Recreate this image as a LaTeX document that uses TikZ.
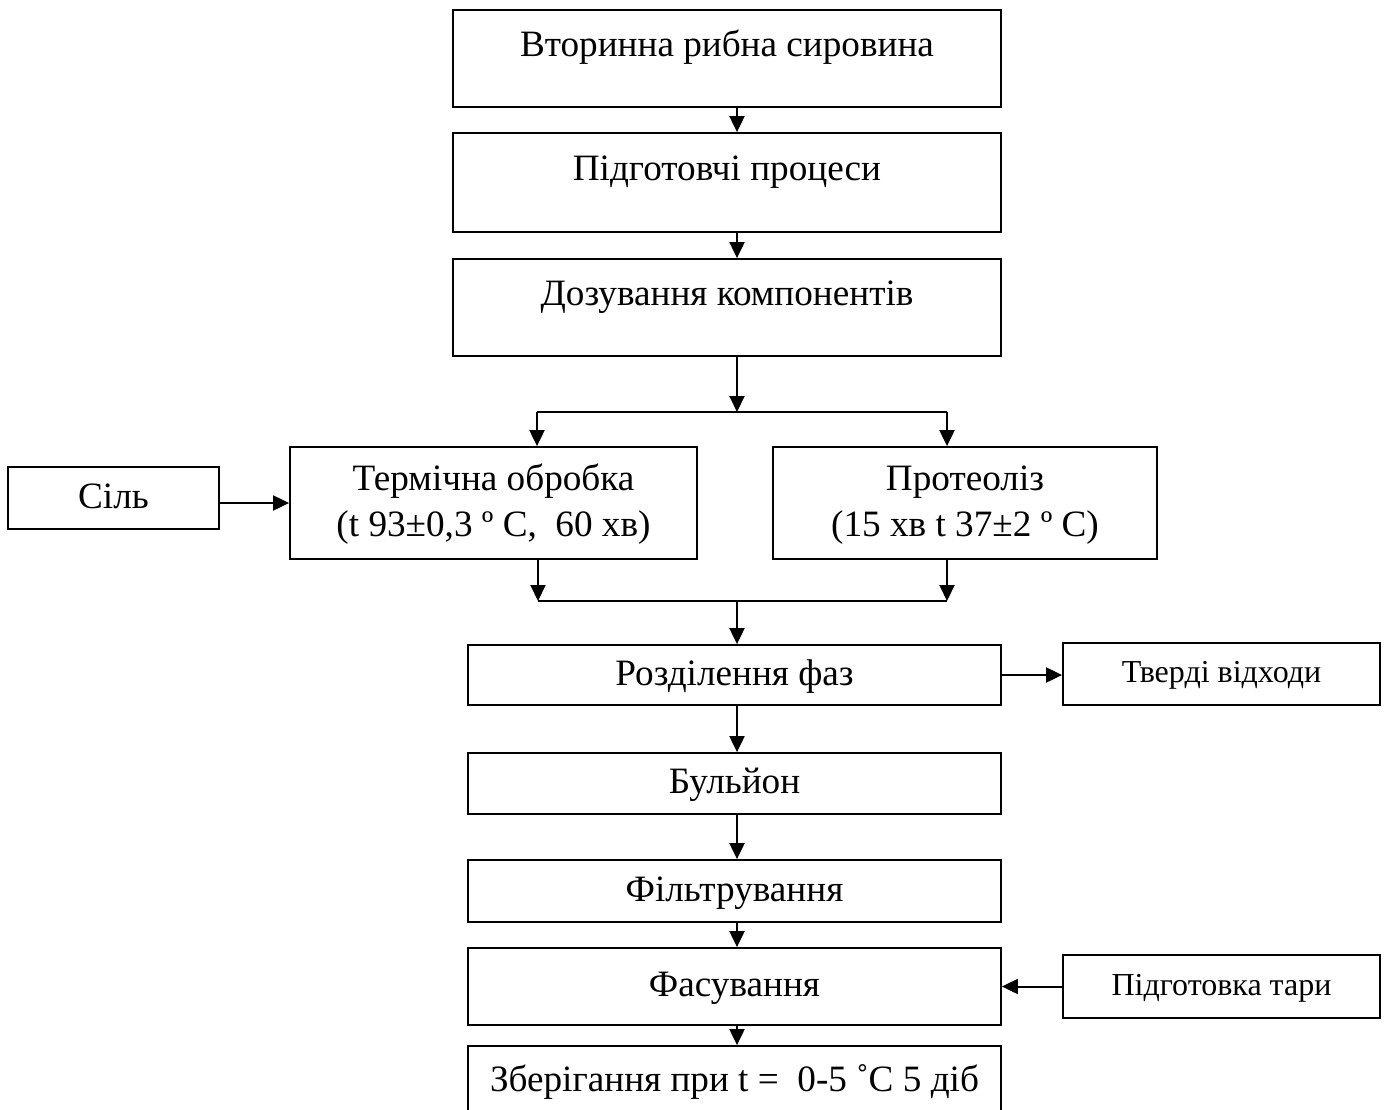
\documentclass[tikz,border=0pt]{standalone}
\usepackage{fontspec}
\setmainfont{Liberation Serif}
\usetikzlibrary{arrows.meta}

\tikzset{
  stage/.style={draw, line width=0.9pt, minimum width=266.5pt, minimum height=30.5pt,
    inner sep=2pt, align=center, font=\fontsize{18.6}{23}\selectfont,
    text height=14pt, text depth=4pt},
  topstage/.style={stage, minimum width=274pt, minimum height=48.5pt,
    text height=13pt, text depth=15pt},
  twostage/.style={stage, minimum height=56pt, text height=37pt},
  side/.style={stage, minimum width=158.5pt, minimum height=31pt,
    font=\fontsize{16}{19}\selectfont, text height=12pt, text depth=3.5pt},
  flow/.style={line width=1pt, -{Triangle[length=8pt,width=7.5pt]}},
  joint/.style={line width=1pt},
}

\begin{document}
\begin{tikzpicture}[x=0.5pt, y=-0.5pt]
    \useasboundingbox (0,0) rectangle (1387,1109);

    \node[topstage] (raw) at (727,58.5) {Вторинна рибна сировина};
    \node[topstage, minimum height=49.5pt] (prep) at (727,182.5) {Підготовчі процеси};
    \node[topstage] (dose) at (727,307.5) {Дозування компонентів};

    \node[twostage, minimum width=203.5pt] (heat) at (493.5,503)
        {Термічна обробка\\(t 93±0,3 º C,\ \ 60 хв)};
    \node[twostage, minimum width=192pt] (prot) at (965,503)
        {Протеоліз\\(15 хв t 37±2 º C)};
    \node[stage, minimum width=105.5pt, minimum height=31pt] (salt) at (113.5,498) {Сіль};

    \node[stage, minimum height=30pt] (split) at (734.5,675) {Розділення фаз};
    \node[side] (waste) at (1221.5,674) {Тверді відходи};
    \node[stage] (broth) at (734.5,783.5) {Бульйон};
    \node[stage, minimum height=31pt] (filt) at (734.5,891) {Фільтрування};
    \node[stage, minimum height=38.5pt] (pack) at (734.5,986.5) {Фасування};
    \node[side, minimum height=31.5pt] (tare) at (1221.5,986.5) {Підготовка тари};
    \node[stage, minimum height=35pt] (store) at (734.5,1081) {Зберігання при t =\ \ 0-5 ˚C 5 діб};

    \coordinate (spine) at (737,0);
    \coordinate (fork) at (737,412);
    \coordinate (forkl) at (537,412);
    \coordinate (forkr) at (947,412);
    \coordinate (join) at (737,601);
    \coordinate (joinl) at (538,601);
    \coordinate (joinr) at (947,601);

    \draw[flow] (raw.south -| spine) -- (prep.north -| spine);
    \draw[flow] (prep.south -| spine) -- (dose.north -| spine);
    \draw[flow] (dose.south -| spine) -- (fork);
    \draw[joint] (forkl) -- (forkr);
    \draw[flow] (forkl) -- (heat.north -| forkl);
    \draw[flow] (forkr) -- (prot.north -| forkr);
    \draw[flow] (salt.east |- heat) -- (heat.west);

    \draw[flow] (heat.south -| joinl) -- (joinl);
    \draw[flow] (prot.south -| joinr) -- (joinr);
    \draw[joint] (joinl) -- (joinr);
    \draw[flow] (join) -- (split.north -| spine);

    \draw[flow] (split.east) -- (split.east -| waste.west);
    \draw[flow] (split.south -| spine) -- (broth.north -| spine);
    \draw[flow] (broth.south -| spine) -- (filt.north -| spine);
    \draw[flow] (filt.south -| spine) -- (pack.north -| spine);
    \draw[flow] (tare.west) -- (tare.west -| pack.east);
    \draw[flow] (pack.south -| spine) -- (store.north -| spine);
\end{tikzpicture}
\end{document}
